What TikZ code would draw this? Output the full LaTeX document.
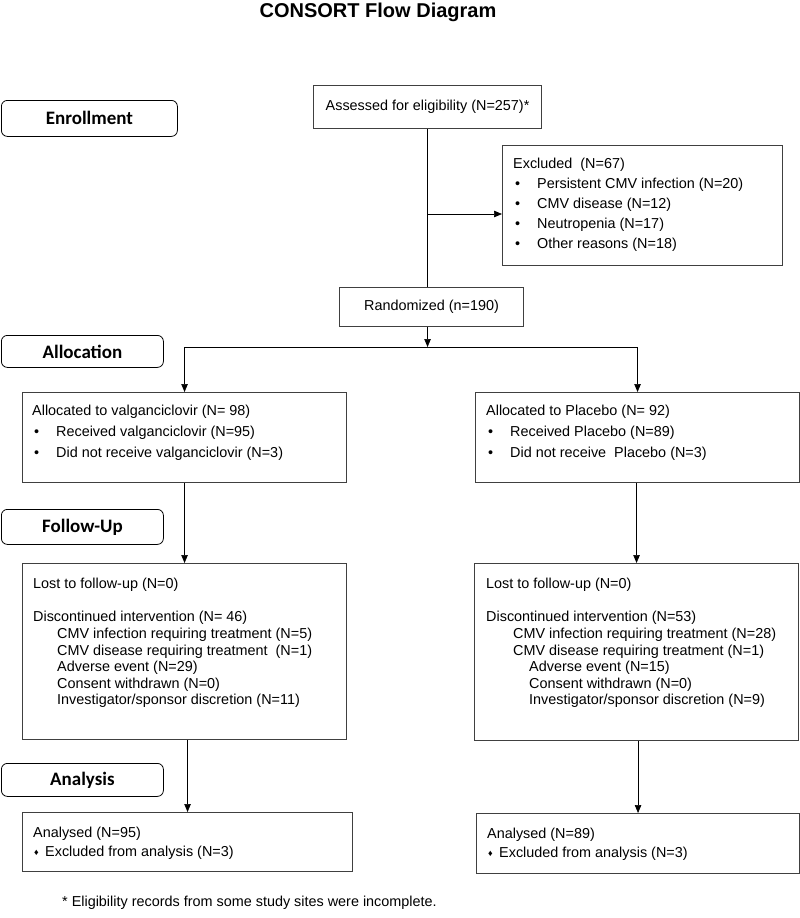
\documentclass[tikz,border=0pt]{standalone}
\usepackage{fontspec}
\setmainfont{Liberation Sans}
\newfontfamily\stagefont{Carlito}
\usetikzlibrary{arrows.meta}
\newcommand{\itm}{\makebox[24pt][l]{\hspace{2pt}\textbullet}}
\newcommand{\dia}{\makebox[12pt][l]{\hspace{1pt}\raisebox{1pt}{\fontsize{9}{9}\selectfont ♦}}}

\begin{document}
\begin{tikzpicture}[x=1pt,y=-1pt,
  box/.style={draw=black!75,line width=1.1pt,rectangle,inner sep=0pt,anchor=north west},
  stage/.style={draw,line width=0.8pt,rounded corners=6pt,inner sep=0pt,anchor=north west,
    font=\stagefont\bfseries\fontsize{19}{20}\selectfont},
  txt/.style={anchor=north west,align=left,inner sep=0pt},
  arr/.style={-{Triangle[length=8pt,width=6.5pt]},line width=0.7pt}]
  \useasboundingbox (0,0) rectangle (800,918);
  \node[font=\bfseries\fontsize{20}{22}\selectfont] (title) at (378,12) {CONSORT Flow Diagram};
  % stages
  \node[stage,minimum width=176,minimum height=36] (enrol) at (1,100) {Enrollment};
  \node[stage,minimum width=162,minimum height=32] (alloc) at (1,335) {Allocation};
  \node[stage,minimum width=162,minimum height=35] (follow) at (1,509) {Follow-Up};
  \node[stage,minimum width=162,minimum height=33] (analysis) at (1,763) {Analysis};
  % boxes
  \node[box,minimum width=228,minimum height=43,font=\fontsize{14.4}{16}\selectfont] (assess) at (313,85) {Assessed for eligibility (N=257)*};
  \node[box,minimum width=280,minimum height=120] (excl) at (502,145) {};
  \node[txt,font=\fontsize{14.4}{20}\selectfont] (excltxt) at (513,158) {Excluded\ \ (N=67)\\
    \itm Persistent CMV infection (N=20)\\
    \itm CMV disease (N=12)\\
    \itm Neutropenia (N=17)\\
    \itm Other reasons (N=18)};
  \node[box,minimum width=184,minimum height=39,font=\fontsize{14.4}{16}\selectfont] (rand) at (339,287) {Randomized (n=190)};
  \node[box,minimum width=324,minimum height=90] (allocL) at (22,392) {};
  \node[txt,font=\fontsize{14.4}{21}\selectfont] (allocLtxt) at (32,405) {Allocated to valganciclovir (N= 98)\\
    \itm Received valganciclovir (N=95)\\
    \itm Did not receive valganciclovir (N=3)};
  \node[box,minimum width=324,minimum height=90] (allocR) at (475,392) {};
  \node[txt,font=\fontsize{14.4}{21}\selectfont] (allocRtxt) at (486,405) {Allocated to Placebo (N= 92)\\
    \itm Received Placebo (N=89)\\
    \itm Did not receive\ \ Placebo (N=3)};
  \node[box,minimum width=324,minimum height=176] (followL) at (22,563) {};
  \node[txt,font=\fontsize{14.4}{16.6}\selectfont] (followLtxt) at (33,578) {Lost to follow-up (N=0)\\[16.6pt]
    Discontinued intervention (N= 46)\\
    \hspace*{24pt}CMV infection requiring treatment (N=5)\\
    \hspace*{24pt}CMV disease requiring treatment\ \ (N=1)\\
    \hspace*{24pt}Adverse event (N=29)\\
    \hspace*{24pt}Consent withdrawn (N=0)\\
    \hspace*{24pt}Investigator/sponsor discretion (N=11)};
  \node[box,minimum width=324,minimum height=177] (followR) at (474,563) {};
  \node[txt,font=\fontsize{14.4}{16.6}\selectfont] (followRtxt) at (486,578) {Lost to follow-up (N=0)\\[16.6pt]
    Discontinued intervention (N=53)\\
    \hspace*{27pt}CMV infection requiring treatment (N=28)\\
    \hspace*{27pt}CMV disease requiring treatment (N=1)\\
    \hspace*{43pt}Adverse event (N=15)\\
    \hspace*{43pt}Consent withdrawn (N=0)\\
    \hspace*{43pt}Investigator/sponsor discretion (N=9)};
  \node[box,minimum width=330,minimum height=59] (anaL) at (22,812) {};
  \node[txt,font=\fontsize{14.4}{19}\selectfont] (anaLtxt) at (33,827) {Analysed (N=95)\\
    \dia Excluded from analysis (N=3)};
  \node[box,minimum width=323,minimum height=60] (anaR) at (476,813) {};
  \node[txt,font=\fontsize{14.4}{19}\selectfont] (anaRtxt) at (487,828) {Analysed (N=89)\\
    \dia Excluded from analysis (N=3)};
  \node[anchor=west,inner sep=0pt,font=\fontsize{14.4}{16}\selectfont] (note) at (62,903) {* Eligibility records from some study sites were incomplete.};
  % connectors
  \coordinate (split) at (assess.south |- 0,214);
  \coordinate (fork) at (assess.south |- 0,347);
  \draw[line width=0.7pt] (assess.south) -- (assess.south |- rand.north);
  \draw[arr] (split) -- (split -| excl.west);
  \draw[arr] (assess.south |- rand.south) -- (fork);
  \draw[arr] (fork) -| (allocL.north);
  \draw[arr] (fork) -| (allocR.north);
  \draw[arr] (allocL.south) -- (followL.north);
  \draw[arr] (followR.north |- allocR.south) -- (followR.north);
  \draw[arr] (anaL.north |- followL.south) -- (anaL.north);
  \draw[arr] (anaR.north |- followR.south) -- (anaR.north);
\end{tikzpicture}
\end{document}
